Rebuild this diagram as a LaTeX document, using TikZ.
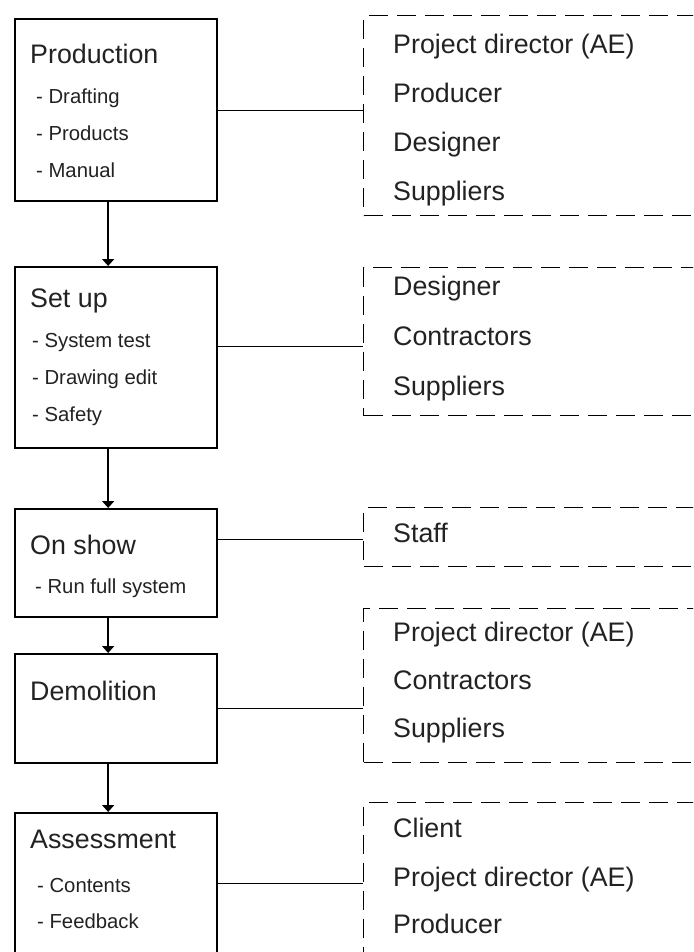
\documentclass[tikz,border=0pt]{standalone}
\usepackage{fontspec}
\setmainfont{Liberation Sans}
\usetikzlibrary{arrows.meta,positioning}
\usepackage{xcolor}
\definecolor{inkColor}{RGB}{34,34,34}
\newcommand{\titlefont}{\fontsize{26.8}{29}\selectfont}
\newcommand{\itemfont}{\fontsize{20.3}{22}\selectfont}

\begin{document}
\begin{tikzpicture}[x=1pt, y=-1pt,
    stage/.style={draw, line width=2.3pt, minimum width=202pt, anchor=north west, inner sep=0pt},
    team/.style={draw, dash pattern=on 19pt off 9pt, line width=1.3pt, minimum width=360pt, anchor=north west, inner sep=0pt},
    title/.style={anchor=west, inner sep=0pt, font=\titlefont, text=inkColor, text height=19pt, text depth=0pt},
    item/.style={anchor=west, inner sep=0pt, font=\itemfont, text=inkColor, text height=14.5pt, text depth=0pt},
    arr/.style={-{Triangle[width=12pt,length=7pt]}, line width=2.2pt},
    link/.style={line width=1.2pt}
  ]
  \useasboundingbox (0,0) rectangle (693,952);
  \clip (0,0) rectangle (693,952);
  \fill[white] (0,0) rectangle (693,952);

  % stages
  \node[stage, minimum height=182pt] (prod) at (14,18) {};
  \node[stage, minimum height=181pt] (setup) at (14,266) {};
  \node[stage, minimum height=108pt] (show) at (14,508) {};
  \node[stage, minimum height=109pt] (demo) at (14,653) {};
  \node[stage, minimum height=180pt] (assess) at (14,812) {};

  \node[title] (prodT) at (30,54) {Production};
  \node[item] (prodA) at (36,96) {- Drafting};
  \node[item] (prodB) at (36,133) {- Products};
  \node[item] (prodC) at (36,170) {- Manual};

  \node[title] (setupT) at (30,298) {Set up};
  \node[item] (setupA) at (32,340) {- System test};
  \node[item] (setupB) at (32,377) {- Drawing edit};
  \node[item] (setupC) at (32,414) {- Safety};

  \node[title] (showT) at (30,545) {On show};
  \node[item] (showA) at (35,586) {- Run full system};

  \node[title] (demoT) at (30,691) {Demolition};

  \node[title] (assessT) at (30,839) {Assessment};
  \node[item] (assessA) at (37,885) {- Contents};
  \node[item] (assessB) at (37,921) {- Feedback};

  % people involved
  \node[team, minimum height=200pt] (team1) at (363,15) {};
  \node[team, minimum height=148pt] (team2) at (363,267) {};
  \node[team, minimum height=59pt] (team3) at (363,507) {};
  \node[team, minimum height=154pt] (team4) at (363,608) {};
  \node[team, minimum height=200pt] (team5) at (363,802) {};

  \node[title] (t1a) at (393,44) {Project director (AE)};
  \node[title] (t1b) at (393,93) {Producer};
  \node[title] (t1c) at (393,142) {Designer};
  \node[title] (t1d) at (393,191) {Suppliers};

  \node[title] (t2a) at (393,286) {Designer};
  \node[title] (t2b) at (393,336) {Contractors};
  \node[title] (t2c) at (393,386) {Suppliers};

  \node[title] (t3a) at (393,533) {Staff};

  \node[title] (t4a) at (393,632) {Project director (AE)};
  \node[title] (t4b) at (393,680) {Contractors};
  \node[title] (t4c) at (393,728) {Suppliers};

  \node[title] (t5a) at (393,828) {Client};
  \node[title] (t5b) at (393,877) {Project director (AE)};
  \node[title] (t5c) at (393,924) {Producer};

  % flow
  \draw[arr] ([xshift=-8pt]prod.south) -- ([xshift=-8pt]setup.north);
  \draw[arr] ([xshift=-8pt]setup.south) -- ([xshift=-8pt]show.north);
  \draw[arr] ([xshift=-8pt]show.south) -- ([xshift=-8pt]demo.north);
  \draw[arr] ([xshift=-8pt]demo.south) -- ([xshift=-8pt]assess.north);

  % links to teams
  \draw[link] (prod.east) -- (prod.east -| team1.west);
  \draw[link] ([yshift=11.5pt]setup.east) -- ([yshift=11.5pt]setup.east -| team2.west);
  \draw[link] ([yshift=-2pt]team3.west -| show.east) -- ([yshift=-2pt]team3.west);
  \draw[link] (demo.east) -- (demo.east -| team4.west);
  \draw[link] ([yshift=20pt]assess.east) -- ([yshift=20pt]assess.east -| team5.west);
\end{tikzpicture}
\end{document}
